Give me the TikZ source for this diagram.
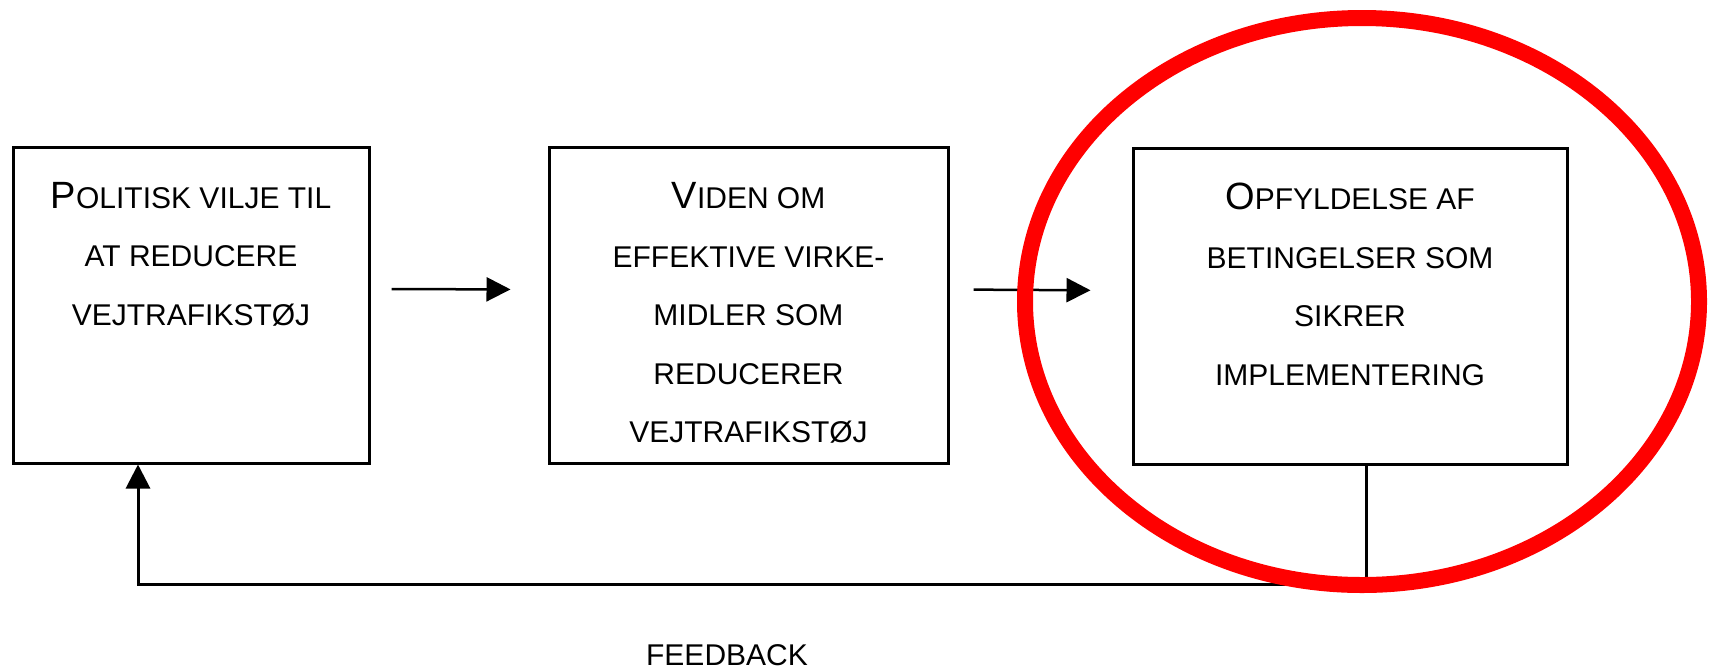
\documentclass[tikz,border=0pt]{standalone}
\usepackage{fontspec}
\setmainfont{Liberation Sans}
\usetikzlibrary{arrows.meta,calc,positioning}
\newcommand{\initcap}[1]{{\fontsize{19}{29.25}\selectfont #1}}
\tikzset{
    block/.style = {draw, rectangle, line width=1.5pt,
        minimum height=158pt, inner sep=0pt},
    boxtext/.style = {align=center, inner sep=0pt,
        font=\fontsize{15}{29.25}\selectfont},
    flow/.style = {line width=1.25pt},
    highlight/.style = {draw=red, line width=8pt},
}

\begin{document}
\begin{tikzpicture}[x=0.5pt, y=-0.5pt, >={Triangle[length=12pt,width=12pt]}]
	\useasboundingbox (0,0) rectangle (1712,670);

	% blocks
	\node [block, minimum width=178pt] (politik) at (191,305) {};
	\node [block, minimum width=199.5pt] (viden) at (748.5,305.5) {};
	\node [block, minimum width=217pt] (implement) at (1350,306.5) {};

	% block texts
	\node [boxtext, below=18pt of politik.north] (politikText)
		{\initcap{P}OLITISK VILJE TIL\\AT REDUCERE\\VEJTRAFIKSTØJ};
	\node [boxtext, below=18pt of viden.north] (videnText)
		{\initcap{V}IDEN OM\\EFFEKTIVE VIRKE-\\MIDLER SOM\\REDUCERER\\VEJTRAFIKSTØJ};
	\node [boxtext, below=18pt of implement.north] (implementText)
		{\initcap{O}PFYLDELSE AF\\BETINGELSER SOM\\SIKRER\\IMPLEMENTERING};

	% feedback
	\coordinate (fbRight) at (1366,584);
	\coordinate (fbLeft) at (138,584);
	\node [anchor=base, font=\fontsize{15}{18}\selectfont] (fbLabel) at (727,665) {FEEDBACK};

	%%lines
	\draw [flow, ->, shorten <=10.5pt, shorten >=18.5pt] ([yshift=8pt]politik.east) -- ([yshift=8pt]viden.west);
	\draw [flow, ->, shorten <=12pt, shorten >=20.5pt] ([yshift=8pt]viden.east) -- ([yshift=8pt]implement.west);
	\draw [flow, line width=1.5pt, ->] (implement.south -| fbRight) |- (fbLeft) -- (fbLeft |- politik.south);

	% red ring
	\draw [highlight] (1362,301.5) ellipse [x radius=337, y radius=283.5];
\end{tikzpicture}
\end{document}
